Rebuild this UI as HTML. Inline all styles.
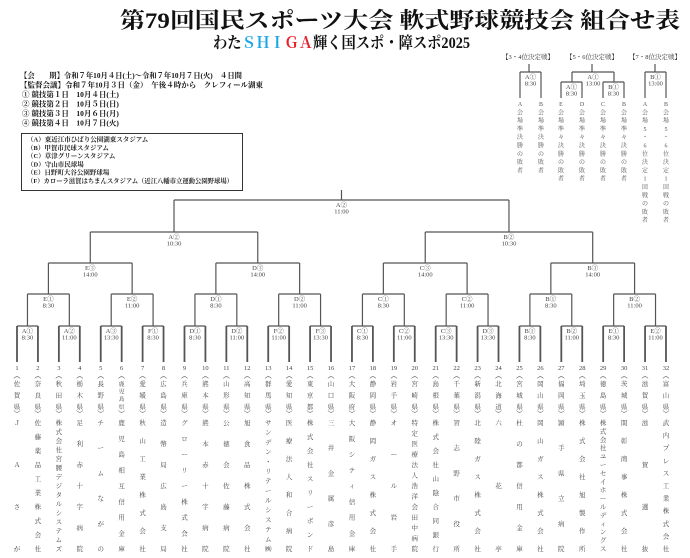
<!DOCTYPE html>
<html><head><meta charset="utf-8">
<style>
html,body{margin:0;padding:0;background:#fff;}
svg{display:block;}
text{font-family:"Liberation Serif","Noto Serif CJK JP","Noto Serif CJK SC",serif;}
</style></head>
<body>
<svg id="s" xmlns="http://www.w3.org/2000/svg" width="690" height="558" viewBox="0 0 690 558">
<text x="120" y="28" font-size="22" font-weight="bold" textLength="560" lengthAdjust="spacingAndGlyphs" fill="#111">第79回国民スポーツ大会 軟式野球競技会 組合せ表</text>
<text x="213" y="48" font-size="16" font-weight="bold" textLength="257" lengthAdjust="spacingAndGlyphs" fill="#111">わた<tspan fill="#1aa6e6">ＳＨＩ</tspan><tspan fill="#e8202a">ＧＡ</tspan>輝く国スポ・障スポ2025</text>
<g font-size="7.5" font-weight="bold" fill="#111">
<text x="20" y="78" textLength="222" lengthAdjust="spacingAndGlyphs">【会　　期】令和７年10月４日(土)～令和７年10月７日(火)　４日間</text>
<text x="20" y="87.5" textLength="243" lengthAdjust="spacingAndGlyphs">【監督会議】令和７年10月３日（金）　午後４時から　クレフィール湖東</text>
<text x="22" y="97">① 競技第１日　10月４日(土)</text>
<text x="22" y="106.5">② 競技第２日　10月５日(日)</text>
<text x="22" y="116">③ 競技第３日　10月６日(月)</text>
<text x="22" y="125.5">④ 競技第４日　10月７日(火)</text>
</g>
<rect x="21.5" y="133.5" width="221" height="57" fill="none" stroke="#333" stroke-width="1"/>
<g font-size="6.5" font-weight="bold" fill="#222">
<text x="27" y="141.5">（A）東近江市ひばり公園湖東スタジアム</text>
<text x="27" y="149.8">（B）甲賀市民球スタジアム</text>
<text x="27" y="158.1">（C）草津グリーンスタジアム</text>
<text x="27" y="166.4">（D）守山市民球場</text>
<text x="27" y="174.7">（E）日野町大谷公園野球場</text>
<text x="27" y="183" textLength="206" lengthAdjust="spacingAndGlyphs">（F）カローラ滋賀はちまんスタジアム（近江八幡市立運動公園野球場）</text>
</g>
<g id="g"></g>
</svg>
<script>
var g=document.getElementById('g');var NS='http://www.w3.org/2000/svg';
function L(x1,y1,x2,y2,w){var l=document.createElementNS(NS,'line');l.setAttribute('x1',x1);l.setAttribute('y1',y1);l.setAttribute('x2',x2);l.setAttribute('y2',y2);l.setAttribute('stroke','#555');l.setAttribute('stroke-width',w||1.2);g.appendChild(l);}
function T(x,y,s,fs,c,anc){var t=document.createElementNS(NS,'text');t.setAttribute('x',x);t.setAttribute('y',y);t.setAttribute('font-size',fs||6.5);t.setAttribute('fill',c||'#444');t.setAttribute('text-anchor',anc||'middle');t.textContent=s;g.appendChild(t);}
var X=[];for(var i=0;i<32;i++)X.push(17+i*20.935);
var ys=[326,294,263,232,200];
var labs=[
["A①","8:30","A②","11:00","A③","13:30","F①","8:30","D①","8:30","D②","11:00","F②","11:00","F③","13:30","C①","8:30","C②","11:00","C③","13:30","D③","13:30","B①","8:30","B②","11:00","E①","8:30","E②","11:00"],
["E①","8:30","E②","11:00","D①","8:30","D②","11:00","C①","8:30","C②","11:00","B①","8:30","B②","11:00"],
["E③","14:00","D③","14:00","C③","14:00","B③","14:00"],
["A②","10:30","B②","10:30"],
["A②","11:00"]];
var cur=X.slice();var bot=362;
for(var r=0;r<5;r++){var nx=[];var y=ys[r];
 for(var k=0;k<cur.length;k+=2){var a=cur[k],b=cur[k+1];
  L(a,y,a,bot,r==0?1.8:1.2);L(b,y,b,bot,r==0?1.8:1.2);L(a,y,b,y);
  var m=(a+b)/2;nx.push(m);var j=k/2;
  T(m,y+7,labs[r][2*j]);T(m,y+13.5,labs[r][2*j+1]);}
 cur=nx;bot=y;}
L(cur[0],190,cur[0],200);
var pref=["佐賀県","奈良県","秋田県","栃木県","長野県","鹿児島県","愛媛県","広島県","兵庫県","熊本県","山形県","高知県","群馬県","愛知県","東京都","山口県","大阪府","静岡県","岩手県","宮崎県","島根県","千葉県","新潟県","北海道","宮城県","岡山県","福岡県","埼玉県","徳島県","茨城県","滋賀県","富山県"];
var team=["ＪＡさが","佐藤薬品工業株式会社","株式会社宮腰デジタルシステムズ","足利赤十字病院","チームながの","鹿児島相互信用金庫","秋山工業株式会社","造幣局広島支局","グローリー株式会社","熊本赤十字病院","公徳会佐藤病院","旭食品株式会社","サンデン・リテールシステム㈱","医療法人和合病院","株式会社スリーボンド","三井金属彦島","大阪シティ信用金庫","静岡ガス株式会社","オール岩手","特定医療法人浩洋会田中病院","株式会社山陰合同銀行","習志野市役所","北陸ガス株式会社","六花亭","杜の都信用金庫","岡山ガス株式会社","頴手県立病院","株式会社旭製作所","株式会社ユーセイホールディングス","関彰商事株式会社","滋賀選抜","武内プレス工業株式会社"];
for(var i=0;i<32;i++){var x=X[i];
 T(x,370,String(i+1),6.5);
 T(x,378,"︵",7,"#222");
 var p=pref[i];var n=p.length;var sp=n>3?7.6:11.5;
 for(var j=0;j<n;j++)T(x,386+j*sp,p[j],n>3?5.6:6.5);
 T(x,416,"︶",7,"#222");
 var t=Array.from(team[i]);var m=t.length;var st=126/(m-1);
 if(t[0]=="Ｊ"){t=["Ｊ","Ａ","さ","が"];m=4;st=42;}
 for(var j=0;j<m;j++)T(x,425+j*st,t[j],6.5);
}
T(528,59,"【3・4位決定戦】",6.5,"#333");T(592,59,"【5・6位決定戦】",6.5,"#333");T(655,59,"【7・8位決定戦】",6.5,"#333");
function br(a,b,y,yb,l1,l2){L(a,y,a,yb);L(b,y,b,yb);L(a,y,b,y);T((a+b)/2,y+7,l1);T((a+b)/2,y+13.5,l2);}
L(529,64,529,72);br(520,541,72,98,"A①","8:30");
L(592,64,592,72);br(572,614,72,82,"A①","13:00");br(561,582,82,98,"A①","8:30");br(603,624,82,98,"B①","8:30");
L(655,64,655,72);br(645,666,72,98,"B①","13:00");
var pt=[[520,"A会場準決勝の敗者"],[541,"B会場準決勝の敗者"],[561,"E会場準々決勝の敗者"],[582,"D会場準々決勝の敗者"],[603,"C会場準々決勝の敗者"],[624,"B会場準々決勝の敗者"],[645,"A会場5・6位決定1回戦の敗者"],[666,"B会場5・6位決定1回戦の敗者"]];
pt.forEach(function(q){var s=Array.from(q[1]);for(var j=0;j<s.length;j++){T(q[0],106+j*8.3,s[j],6,"#555");}});
</script>
</body></html>
